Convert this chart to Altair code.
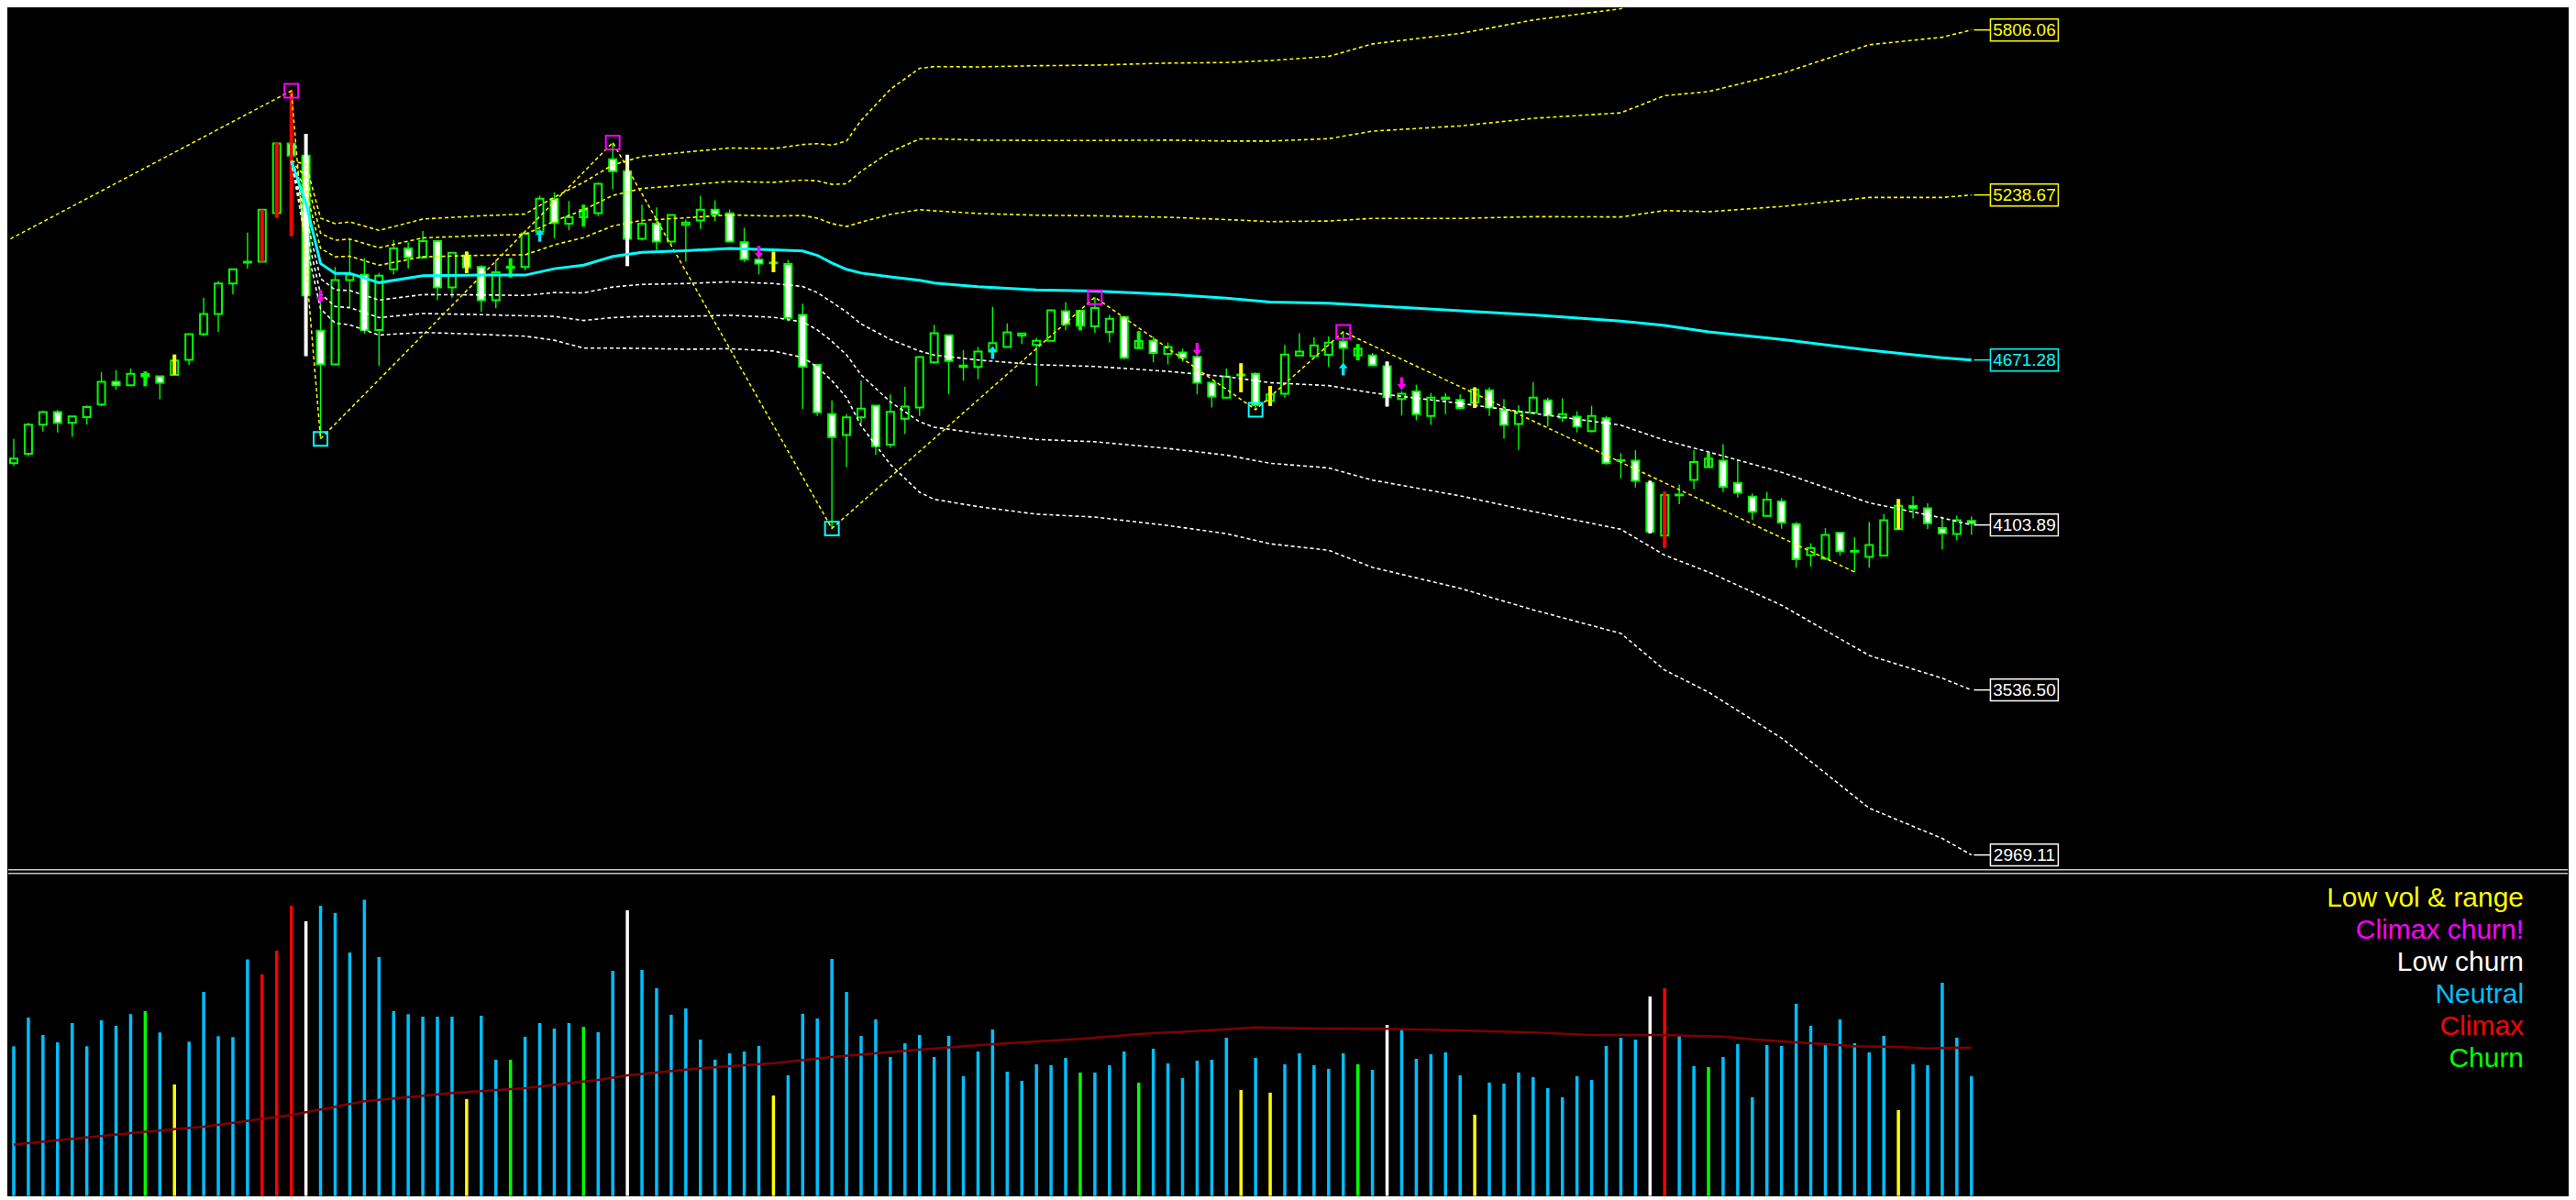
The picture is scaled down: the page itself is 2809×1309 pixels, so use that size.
import altair as alt
import pandas as pd

# ---------------- data ----------------
opens = [4316, 4349, 4449, 4492, 4455, 4475, 4518, 4596, 4584, 4623,
         4615, 4620, 4672, 4760, 4829, 4934, 5007, 5009, 5176, 5416,
         5374, 4772, 4656, 4946, 4964, 4774, 4983, 5055, 5024, 5080,
         4921, 5030, 4991, 4877, 4988, 4991, 5112, 5224, 5140, 5162,
         5176, 5361, 5320, 5088, 5140, 5078, 5136, 5151, 5188, 5175,
         5076, 5016, 5006, 5001, 4826, 4654, 4485, 4413, 4474, 4514,
         4380, 4469, 4508, 4663, 4756, 4647, 4647, 4700, 4716, 4755,
         4723, 4737, 4839, 4840, 4787, 4768, 4819, 4712, 4737, 4692,
         4697, 4682, 4593, 4542, 4618, 4624, 4531, 4555, 4687, 4684,
         4689, 4735, 4687, 4687, 4650, 4537, 4563, 4479, 4537, 4534,
         4524, 4567, 4500, 4451, 4490, 4532, 4473, 4476, 4427, 4471,
         4325, 4325, 4248, 4067, 4208, 4259, 4303, 4325, 4248, 4201,
         4135, 4185, 4107, 4000, 3988, 4077, 4015, 3994, 3999, 4089,
         4170, 4161, 4093, 4073, 4118]
highs = [4400, 4455, 4497, 4499, 4477, 4515, 4630, 4636, 4642, 4632,
         4615, 4690, 4762, 4885, 4943, 4985, 5109, 5188, 5419, 5597,
         5449, 4907, 4991, 5088, 5021, 4970, 5084, 5076, 5115, 5080,
         5042, 5044, 4997, 5015, 5021, 5112, 5236, 5248, 5218, 5205,
         5281, 5419, 5377, 5205, 5196, 5170, 5154, 5236, 5220, 5188,
         5126, 5064, 5044, 5015, 4865, 4654, 4532, 4485, 4600, 4514,
         4553, 4579, 4684, 4792, 4756, 4705, 4716, 4854, 4797, 4763,
         4747, 4845, 4870, 4842, 4887, 4826, 4819, 4770, 4752, 4731,
         4710, 4700, 4593, 4642, 4660, 4628, 4582, 4723, 4763, 4749,
         4752, 4768, 4726, 4695, 4666, 4564, 4586, 4558, 4558, 4553,
         4577, 4577, 4537, 4516, 4595, 4542, 4539, 4495, 4514, 4479,
         4351, 4361, 4256, 4219, 4243, 4361, 4353, 4382, 4327, 4212,
         4217, 4196, 4114, 4041, 4093, 4080, 4062, 4114, 4141, 4193,
         4203, 4178, 4133, 4136, 4133]
lows = [4307, 4340, 4425, 4422, 4407, 4449, 4512, 4569, 4584, 4581,
        4536, 4620, 4654, 4753, 4768, 4897, 4985, 5009, 5160, 5097,
        4684, 4400, 4654, 4853, 4762, 4651, 4965, 4985, 5019, 4877,
        4885, 4970, 4837, 4849, 4955, 4979, 5112, 5090, 5118, 5130,
        5166, 5257, 4994, 5082, 5049, 5070, 5009, 5122, 5148, 5076,
        5008, 4965, 4973, 4804, 4503, 4479, 4092, 4303, 4453, 4345,
        4369, 4416, 4479, 4658, 4553, 4600, 4605, 4700, 4716, 4726,
        4582, 4737, 4773, 4773, 4765, 4731, 4674, 4712, 4663, 4656,
        4666, 4553, 4508, 4539, 4560, 4500, 4513, 4542, 4687, 4684,
        4647, 4650, 4670, 4650, 4511, 4480, 4464, 4448, 4485, 4500,
        4506, 4479, 4401, 4362, 4490, 4443, 4458, 4422, 4422, 4311,
        4264, 4233, 4075, 4025, 4175, 4227, 4301, 4217, 4198, 4122,
        4133, 4091, 3957, 3960, 3984, 3999, 3942, 3957, 3999, 4089,
        4126, 4089, 4020, 4051, 4070]
closes = [4332, 4449, 4492, 4455, 4477, 4509, 4596, 4584, 4624, 4615,
          4593, 4669, 4760, 4829, 4934, 4983, 5008, 5188, 5416, 5374,
          4893, 4656, 4946, 4965, 4774, 4961, 5055, 5024, 5080, 4921,
          5040, 4989, 4877, 4973, 4992, 5106, 5226, 5142, 5162, 5187,
          5277, 5320, 5088, 5140, 5078, 5170, 5144, 5188, 5172, 5078,
          5018, 5003, 5004, 4816, 4648, 4491, 4406, 4474, 4504, 4375,
          4493, 4511, 4681, 4763, 4668, 4652, 4700, 4729, 4766, 4762,
          4737, 4842, 4795, 4789, 4850, 4813, 4679, 4736, 4695, 4716,
          4679, 4593, 4546, 4614, 4621, 4516, 4553, 4690, 4700, 4721,
          4731, 4713, 4710, 4653, 4543, 4555, 4485, 4542, 4542, 4506,
          4569, 4508, 4448, 4493, 4542, 4480, 4485, 4442, 4479, 4316,
          4326, 4256, 4081, 4207, 4206, 4320, 4332, 4235, 4215, 4149,
          4191, 4112, 3986, 4025, 4070, 4014, 4012, 4035, 4120, 4170,
          4161, 4110, 4075, 4120, 4109]
volumes = [490, 584, 527, 503, 566, 490, 575, 557, 595, 605,
           535, 365, 505, 668, 523, 520, 775, 725, 803, 950,
           899, 950, 926, 797, 970, 782, 605, 595, 587, 587,
           587, 317, 590, 446, 446, 521, 566, 548, 566, 554,
           536, 737, 935, 740, 680, 593, 614, 512, 446, 467,
           473, 491, 329, 395, 596, 581, 776, 668, 524, 578,
           455, 500, 527, 455, 524, 392, 473, 545, 407, 377,
           431, 428, 452, 404, 404, 428, 473, 371, 482, 434,
           386, 443, 446, 518, 347, 452, 338, 431, 467, 428,
           416, 467, 431, 413, 560, 545, 449, 464, 470, 395,
           266, 371, 368, 404, 389, 353, 323, 392, 380, 491,
           518, 512, 653, 680, 524, 425, 422, 455, 497, 323,
           494, 491, 629, 557, 497, 578, 500, 470, 524, 281,
           431, 428, 698, 518, 392]
special_bars = {9: "Churn", 11: "Low vol & range", 17: "Climax", 18: "Climax",
                19: "Climax", 20: "Low churn", 31: "Low vol & range", 34: "Churn",
                39: "Churn", 42: "Low churn", 52: "Low vol & range", 73: "Churn",
                77: "Churn", 84: "Low vol & range", 86: "Low vol & range",
                92: "Churn", 94: "Low churn", 100: "Low vol & range",
                112: "Low churn", 113: "Climax", 116: "Churn",
                129: "Low vol & range"}

# anchored VWAP and its standard deviation (band step)
vwap_idx = [19, 20, 21, 22, 23, 25, 28, 32, 35, 37, 39, 41, 43, 46, 49, 52, 54,
            55, 56, 57, 58, 60, 62, 63, 66, 70, 74, 79, 83, 86, 90, 93, 99, 104,
            110, 113, 116, 121, 127, 132, 134]
vwap_val = [5355, 5210, 5003, 4969, 4969, 4937, 4961, 4963, 4963, 4985, 4997,
            5027, 5041, 5047, 5055, 5050, 5046, 5031, 5005, 4983, 4970, 4957,
            4945, 4936, 4923, 4912, 4908, 4897, 4884, 4870, 4866, 4858, 4840,
            4826, 4805, 4790, 4768, 4742, 4705, 4679, 4671.28]
vwap_sd = [0, 45, 52, 57, 59, 60, 65, 68, 70, 82, 95, 105, 110, 113, 115, 116,
           122, 128, 135, 147, 175, 215, 243, 248, 252, 257, 259, 265, 270, 277,
           283, 300, 318, 338, 358, 395, 413, 457, 525, 551, 567.39]

vol_ma_idx = [0, 9, 13, 19, 24, 30, 35, 40, 42, 47, 52, 56, 61, 65, 68, 73, 77,
              82, 85, 89, 94, 99, 104, 108, 113, 115, 117, 119, 122, 124, 126,
              129, 131, 133, 134]
vol_ma_val = [168, 210, 227, 265, 310, 337, 353, 380, 395, 418, 435, 455, 475,
              490, 500, 514, 530, 543, 552, 548, 547, 542, 535, 527, 527, 524,
              522, 513, 503, 497, 490, 488, 483, 486, 485]

zigzag_idx = [-1, 19, 21, 41, 56, 74, 85, 91, 126]
zigzag_price = [5067, 5597, 4400, 5419, 4092, 4887, 4500, 4768, 3942]
pivot_kind = ["", "H", "L", "H", "L", "H", "L", "H", ""]

arrow_idx = [21, 36, 51, 67, 81, 91, 95]
arrow_price = [4889, 5100, 5042, 4697, 4708, 4640, 4590]
arrow_dir = ["down", "up", "down", "up", "down", "up", "down"]

legend_labels = ["Low vol & range", "Climax churn!", "Low churn", "Neutral", "Climax", "Churn"]
legend_colors = ["#FFFF00", "#FF00FF", "#FFFFFF", "#00BFFF", "#FF0000", "#00FF00"]

# ---------------- build tables ----------------
W = 2793
H_PRICE = 936
H_VOL = 357
n = len(opens)
cats = [special_bars.get(i, "Neutral") for i in range(n)]
cat_domain = ["Neutral", "Churn", "Low vol & range", "Climax", "Low churn", "Climax churn!"]
cat_range = ["#00BFFF", "#00FF00", "#FFFF00", "#FF0000", "#FFFFFF", "#FF00FF"]
cat_color = dict(zip(cat_domain, cat_range))

cdf = pd.DataFrame({"i": list(range(n)), "o": opens, "h": highs, "l": lows,
                    "c": closes, "v": volumes, "cat": cats})
cdf["col"] = [cat_color[c] for c in cats]
cdf["top"] = cdf[["o", "c"]].max(axis=1).astype(float)
cdf["bot"] = cdf[["o", "c"]].min(axis=1).astype(float)
small = (cdf["top"] - cdf["bot"]) < 3
mid = (cdf["top"] + cdf["bot"]) / 2
cdf.loc[small, "top"] = mid[small] + 1.5
cdf.loc[small, "bot"] = mid[small] - 1.5
cdf["fillc"] = ["#FFFFFF" if c < o else "#000000" for o, c in zip(opens, closes)]

rows = []
for k, name in [(3, "u3"), (2, "u2"), (1, "u1"), (-1, "l1"), (-2, "l2"), (-3, "l3")]:
    colr = "#FFFF00" if k > 0 else "#FFFFFF"
    for i, m, s in zip(vwap_idx, vwap_val, vwap_sd):
        rows.append({"i": i, "val": m + k * s, "band": name, "col": colr})
bdf = pd.DataFrame(rows)
vdf = pd.DataFrame({"i": vwap_idx, "val": vwap_val})

zdf = pd.DataFrame({"i": zigzag_idx, "p": zigzag_price, "kind": pivot_kind})
adf = pd.DataFrame({"i": arrow_idx, "p": arrow_price, "dir": arrow_dir})

end_m, end_s = vwap_val[-1], vwap_sd[-1]
lab_rows = []
for k, col in [(2, "#FFFF00"), (1, "#FFFF00"), (0, "#00FFFF"),
               (-1, "#FFFFFF"), (-2, "#FFFFFF"), (-3, "#FFFFFF")]:
    val = end_m + k * end_s
    lab_rows.append({"p": val, "label": f"{val:.2f}", "col": col})
ldf = pd.DataFrame(lab_rows)

mdf = pd.DataFrame({"i": vol_ma_idx, "v": vol_ma_val})

# ---------------- scales ----------------
xs = alt.Scale(domain=[-0.0625, 174.5], nice=False, zero=False)
ps = alt.Scale(domain=[2933.9, 5882.3], nice=False, zero=False)
vs = alt.Scale(domain=[0, 1071], nice=False, zero=True)

def X(f="i"):
    return alt.X(f"{f}:Q", scale=xs, axis=None)

def P(f):
    return alt.Y(f"{f}:Q", scale=ps, axis=None)

GREEN = "#00FF00"
DASH = [4, 3]

# ---------------- price panel ----------------
wicks = alt.Chart(cdf).mark_rule(color=GREEN, strokeWidth=1.4).encode(
    x=X(), y=P("l"), y2=alt.Y2("h"))
bodies = alt.Chart(cdf).mark_bar(size=8, stroke=GREEN, strokeWidth=2).encode(
    x=X(), y=P("top"), y2=alt.Y2("bot"), fill=alt.Fill("fillc:N", scale=None))
overlay = alt.Chart(cdf[cdf["cat"] != "Neutral"]).mark_rule(strokeWidth=4).encode(
    x=X(), y=P("l"), y2=alt.Y2("h"), stroke=alt.Stroke("col:N", scale=None))
band_lines = alt.Chart(bdf).mark_line(strokeDash=DASH, strokeWidth=1.6, clip=True).encode(
    x=X(), y=P("val"), stroke=alt.Stroke("col:N", scale=None), detail="band:N")
vwap_line = alt.Chart(vdf).mark_line(color="#00FFFF", strokeWidth=3, clip=True).encode(
    x=X(), y=P("val"))
zigzag = alt.Chart(zdf).mark_line(color="#FFFF00", strokeDash=DASH, strokeWidth=1.5,
                                  clip=True).encode(x=X(), y=P("p"))
box_hi = alt.Chart(zdf[zdf["kind"] == "H"]).mark_point(
    shape="square", size=225, filled=False, strokeWidth=2, opacity=1, color="#FF00FF"
).encode(x=X(), y=P("p"))
box_lo = alt.Chart(zdf[zdf["kind"] == "L"]).mark_point(
    shape="square", size=225, filled=False, strokeWidth=2, opacity=1, color="#00FFFF"
).encode(x=X(), y=P("p"))
down_path = "M-0.25,-1L0.25,-1L0.25,0.1L0.7,0.1L0,1L-0.7,0.1L-0.25,0.1Z"
up_path = "M-0.25,1L0.25,1L0.25,-0.1L0.7,-0.1L0,-1L-0.7,-0.1L-0.25,-0.1Z"
arr_dn = alt.Chart(adf[adf["dir"] == "down"]).mark_point(
    shape=down_path, size=196, filled=True, opacity=1, color="#FF00FF"
).encode(x=X(), y=P("p"))
arr_up = alt.Chart(adf[adf["dir"] == "up"]).mark_point(
    shape=up_path, size=196, filled=True, opacity=1, color="#00E5FF"
).encode(x=X(), y=P("p"))

last_x = 1 + 16 * (n - 1)
connect = alt.Chart(ldf).mark_rule(strokeWidth=1.5).encode(
    x=alt.value(last_x), x2=alt.value(last_x + 18), y=P("p"),
    stroke=alt.Stroke("col:N", scale=None))
rect_path = "M-1,-0.3243L1,-0.3243L1,0.3243L-1,0.3243Z"
lab_box = alt.Chart(ldf).mark_point(
    shape=rect_path, size=5476, filled=True, fill="#000000", fillOpacity=1,
    strokeWidth=1.5, opacity=1
).encode(x=alt.value(last_x + 55), y=P("p"), stroke=alt.Stroke("col:N", scale=None))
lab_txt = alt.Chart(ldf).mark_text(
    font="Liberation Sans", fontSize=19, align="center", baseline="middle"
).encode(x=alt.value(last_x + 55), y=P("p"), text="label:N",
         fill=alt.Fill("col:N", scale=None))

price = alt.layer(
    wicks, bodies, overlay, band_lines, zigzag, vwap_line,
    box_hi, box_lo, arr_dn, arr_up, connect, lab_box, lab_txt
).properties(width=W, height=H_PRICE)

# ---------------- volume panel ----------------
one = pd.DataFrame({"a": [0]})
sep1 = alt.Chart(one).mark_rule(color="#C8C8C8", strokeWidth=1.5).encode(
    x=alt.value(0), x2=alt.value(W), y=alt.value(1))
sep2 = alt.Chart(one).mark_rule(color="#C8C8C8", strokeWidth=1.5).encode(
    x=alt.value(0), x2=alt.value(W), y=alt.value(5))
vbars = alt.Chart(cdf).mark_bar(size=3.5).encode(
    x=X(), y=alt.Y("v:Q", scale=vs, axis=None),
    fill=alt.Fill("col:N", scale=None))
vma = alt.Chart(mdf).mark_line(color="#800000", strokeWidth=2.5).encode(
    x=X(), y=alt.Y("v:Q", scale=vs, axis=None))
texts = []
for k, (lab, col) in enumerate(zip(legend_labels, legend_colors)):
    texts.append(
        alt.Chart(pd.DataFrame({"t": [lab]})).mark_text(
            font="Liberation Sans", fontSize=30, align="right", baseline="middle",
            color=col
        ).encode(text="t:N", x=alt.value(2745), y=alt.value(32 + 35 * k))
    )

vol = alt.layer(vbars, vma, sep1, sep2, *texts).properties(width=W, height=H_VOL)

chart = alt.vconcat(price, vol, spacing=0, padding=0).configure(
    background="#000000"
).configure_view(stroke=None)

chart.save("out.html", embed_options={"renderer": "svg", "actions": False})
